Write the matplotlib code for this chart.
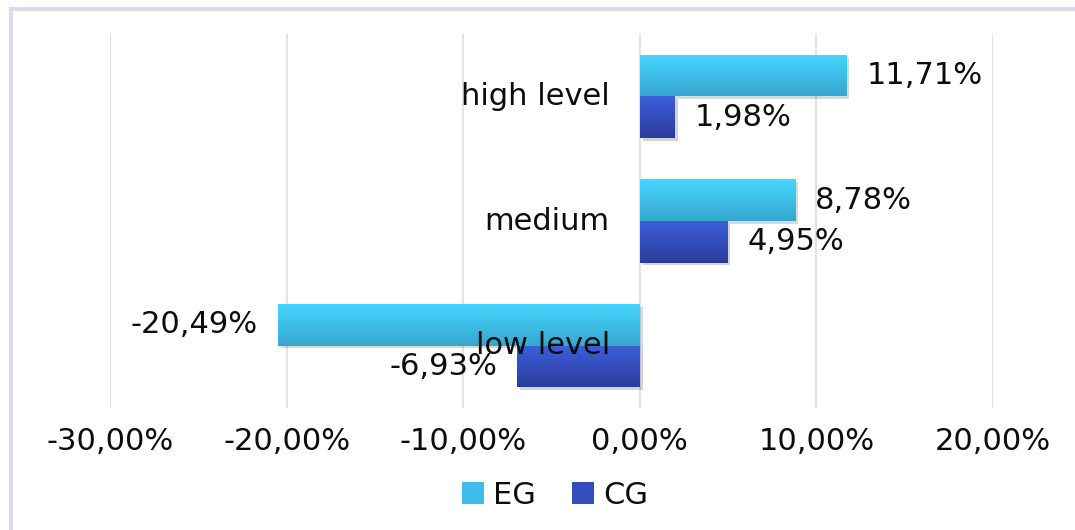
import matplotlib
matplotlib.use("Agg")
import matplotlib.pyplot as plt
import numpy as np
from matplotlib.colors import LinearSegmentedColormap
from matplotlib.lines import Line2D
from matplotlib.patches import Patch
import matplotlib.patheffects as pe

# ── Data ──────────────────────────────────────────────────────────────────────
categories = ["low level", "medium", "high level"]
eg_values = [-20.49, 8.78, 11.71]
cg_values = [-6.93, 4.95, 1.98]
x_ticks = [-30, -20, -10, 0, 10, 20]

eg_cmap = LinearSegmentedColormap.from_list("eg", ["#46D6FF", "#36A6D0"])
cg_cmap = LinearSegmentedColormap.from_list("cg", ["#3C5FDC", "#2C3C9C"])

plt.rcParams["font.family"] = ["DejaVu Sans"]
FS = 22
TXT = "#0d0d0d"


def pct(v):
    return f"{v:.2f}%".replace(".", ",")


fig = plt.figure(figsize=(10.75, 5.3), dpi=100)
ax = fig.add_axes([110 / 1075, 1 - 408 / 530, 883 / 1075, 374 / 530])

# chart frame (left + top edges visible)
fig.add_artist(Line2D([11 / 1075, 11 / 1075], [0, 1 - 9 / 530],
                      transform=fig.transFigure, color="#D9DCEF", lw=3))
fig.add_artist(Line2D([11 / 1075, 1], [1 - 9 / 530, 1 - 9 / 530],
                      transform=fig.transFigure, color="#D9DCEF", lw=3))

y = np.arange(len(categories))
h = 1 / 3
grad = np.linspace(0, 1, 64).reshape(-1, 1)

for vals, off, cmap, solid in [(eg_values, h / 2, eg_cmap, "#3EBDE8"),
                               (cg_values, -h / 2, cg_cmap, "#344DBC")]:
    bars = ax.barh(y + off, vals, height=h, color=solid, zorder=3,
                   path_effects=[pe.SimplePatchShadow(offset=(2, -2), alpha=0.18),
                                 pe.Normal()])
    for b, v in zip(bars, vals):
        x0, y0 = b.get_x(), b.get_y()
        w, hh = b.get_width(), b.get_height()
        im = ax.imshow(grad, extent=[x0, x0 + w, y0, y0 + hh], aspect="auto",
                       cmap=cmap, zorder=4, interpolation="bilinear")
        im.set_clip_path(b)
        ax.annotate(pct(v), (x0 + w, y0 + hh / 2),
                    xytext=(20 if v > 0 else -20, 0), textcoords="offset pixels",
                    ha="left" if v > 0 else "right", va="center",
                    fontsize=FS, color=TXT, zorder=6)

# category labels next to the zero axis
for yi, cat in zip(y, categories):
    ax.annotate(cat, (0, yi), xytext=(-30, 0), textcoords="offset pixels",
                ha="right", va="center", fontsize=FS, color=TXT, zorder=7)

ax.set_xlim(-30, 20)
ax.set_ylim(-0.5, len(categories) - 0.5)
ax.set_xticks(x_ticks)
ax.set_xticklabels([pct(t) for t in x_ticks], fontsize=FS, color=TXT)
ax.set_yticks([])
ax.tick_params(axis="x", length=0, pad=14)
ax.grid(axis="x", color="#DCDFF0", lw=1.3, zorder=0)
ax.set_axisbelow(True)
for s in ax.spines.values():
    s.set_visible(False)

handles = [Patch(facecolor="#3EBDE8", label="EG"),
           Patch(facecolor="#344DBC", label="CG")]
fig.legend(handles=handles, loc="center", bbox_to_anchor=(555 / 1075, 1 - 495 / 530),
           ncol=2, frameon=False, fontsize=FS, handlelength=0.7, handleheight=0.7,
           handletextpad=0.3, columnspacing=1.2, labelcolor=TXT)

fig.savefig("out.png", dpi=100)
